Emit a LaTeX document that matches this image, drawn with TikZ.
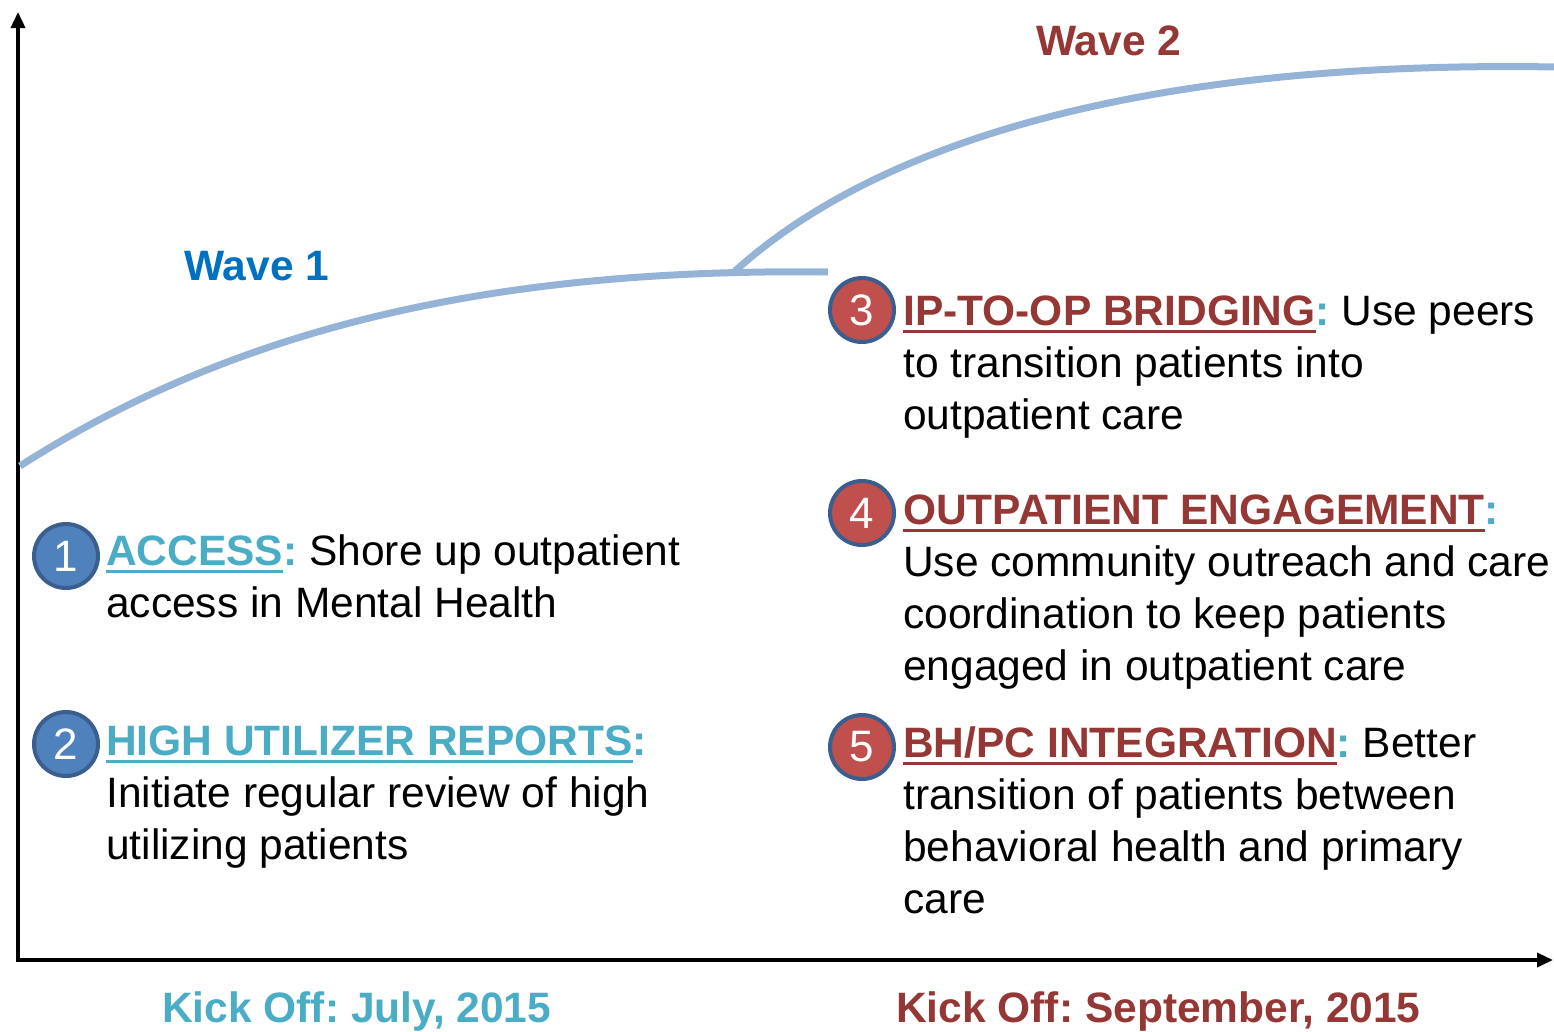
\documentclass[tikz,border=0pt]{standalone}
\usepackage{fontspec}
\setmainfont{Liberation Sans}
\usetikzlibrary{arrows.meta}
\frenchspacing
\definecolor{tealtxt}{HTML}{4BACC6}
\definecolor{redtxt}{HTML}{953735}
\definecolor{bluetxt}{HTML}{0070C0}
\definecolor{wavecurve}{HTML}{95B3D7}
\definecolor{numblue}{HTML}{4F81BD}
\definecolor{numred}{HTML}{C0504D}
\definecolor{ringblue}{HTML}{3A5F8F}
% underlined bold heading in a given colour
\newcommand\hdr[2]{{\color{#1}\bfseries\setbox0\hbox{#2}\rlap{\rule[-8pt]{\wd0}{3pt}}\box0}}
% a block of left-aligned lines whose base is the first line
\newcommand\textblock[1]{\begin{tabular}[t]{@{}l@{}}#1\end{tabular}}
\begin{document}
\begin{tikzpicture}[x=1pt,y=-1pt,
  body/.style={anchor=base west,inner sep=0pt,font=\fontsize{42.5}{52}\selectfont},
  label/.style={anchor=base west,inner sep=0pt,font=\fontsize{42.5}{50}\selectfont\bfseries},
  numdisc/.style={circle,minimum size=64pt,inner sep=0pt,line width=4pt,draw=ringblue,
    text=white,font=\fontsize{44}{50}\selectfont},
  axis/.style={line width=3.5pt,-{Triangle[length=16pt,width=14pt]}},
  wave/.style={draw=wavecurve,line width=7pt}]
\useasboundingbox (0,0) rectangle (1554,1031);

% axes
\coordinate (origin) at (18,960);
\coordinate (ytop) at (18,12);
\coordinate (xend) at (1553,960);
\draw[axis] (18,962) -- (ytop);
\draw[axis] (16,960) -- (xend);

% growth curves
\coordinate (w1start) at (20,466);
\coordinate (w1end) at (828,272);
\coordinate (w2start) at (735,271);
\coordinate (w2end) at (1556,67);
\draw[wave] (w1start) .. controls (240,325) and (500,268) .. (w1end);
\draw[wave] (w2start) .. controls (880,140) and (1150,60) .. (w2end);

% wave titles
\node[label,text=bluetxt] (wave1) at (184,280) {Wave 1};
\node[label,text=redtxt] (wave2) at (1036,55) {Wave 2};

% kick-off dates
\node[label,text=tealtxt] (kick1) at (162,1022) {Kick Off: July, 2015};
\node[label,text=redtxt] (kick2) at (896,1022) {Kick Off: September, 2015};

% wave 1 steps
\node[numdisc,fill=numblue] (n1) at (66,556) {1};
\node[body] (t1) at (106,565) {\textblock{\hdr{tealtxt}{ACCESS}\textcolor{tealtxt}{\bfseries :} Shore up outpatient\\access in Mental Health}};

\node[numdisc,fill=numblue] (n2) at (66,744) {2};
\node[body] (t2) at (106,755) {\textblock{\hdr{tealtxt}{HIGH UTILIZER REPORTS}\textcolor{tealtxt}{\bfseries :}\\Initiate regular review of high\\utilizing patients}};

% wave 2 steps
\node[numdisc,fill=numred] (n3) at (862,310) {3};
\node[body] (t3) at (903,325) {\textblock{\hdr{redtxt}{IP-TO-OP BRIDGING}\textcolor{tealtxt}{\bfseries :} Use peers\\to transition patients into\\outpatient care}};

\node[numdisc,fill=numred] (n4) at (862,513) {4};
\node[body] (t4) at (903,524) {\textblock{\hdr{redtxt}{OUTPATIENT ENGAGEMENT}\textcolor{tealtxt}{\bfseries :}\\Use community outreach and care\\coordination to keep patients\\engaged in outpatient care}};

\node[numdisc,fill=numred] (n5) at (862,747) {5};
\node[body] (t5) at (903,757) {\textblock{\hdr{redtxt}{BH/PC INTEGRATION}\textcolor{tealtxt}{\bfseries :} Better\\transition of patients between\\behavioral health and primary\\care}};
\end{tikzpicture}
\end{document}
